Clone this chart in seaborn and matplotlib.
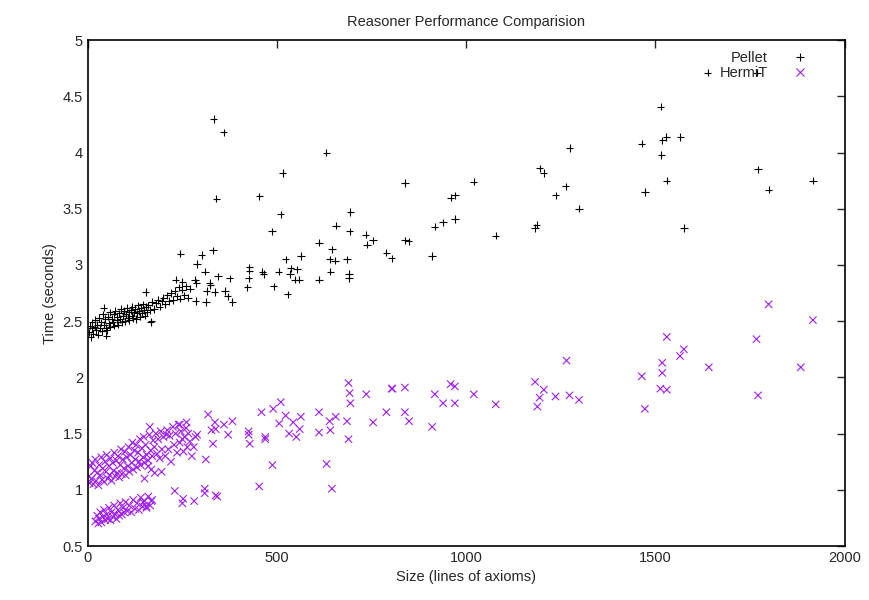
import pandas as pd
import seaborn as sns
import matplotlib.pyplot as plt

sns.set_style("white")
plt.rcParams['font.family'] = ['Liberation Sans', 'DejaVu Sans']

# Pellet - nube densa (tamano pequeno)
pellet_dense_x = [3, 6, 8, 10, 12, 15, 18, 20, 22, 25, 28, 30, 33, 36, 38, 40, 43, 46, 48, 50,
                  53, 56, 58, 60, 63, 66, 68, 70, 73, 76, 78, 80, 83, 86, 88, 90, 93, 96, 98, 100,
                  103, 106, 108, 110, 113, 116, 118, 120, 123, 126, 128, 130, 133, 136, 138, 140,
                  143, 146, 148, 150, 153, 156, 160, 165, 170, 175, 180, 185, 190, 195, 200, 205,
                  210, 215, 220, 225, 230, 235, 240, 245, 250, 255, 260, 265, 270]
pellet_dense_y = [2.40, 2.46, 2.36, 2.44, 2.49, 2.39, 2.45, 2.51, 2.42, 2.47, 2.38, 2.53, 2.44, 2.49,
                  2.41, 2.56, 2.47, 2.52, 2.44, 2.42, 2.54, 2.48, 2.58, 2.45, 2.52, 2.49, 2.56, 2.46,
                  2.59, 2.51, 2.54, 2.47, 2.57, 2.52, 2.61, 2.49, 2.55, 2.59, 2.50, 2.56, 2.62, 2.53,
                  2.58, 2.51, 2.60, 2.55, 2.63, 2.53, 2.58, 2.61, 2.52, 2.57, 2.64, 2.59, 2.54, 2.62,
                  2.57, 2.65, 2.60, 2.55, 2.63, 2.58, 2.64, 2.60, 2.67, 2.61, 2.66, 2.69, 2.63, 2.68,
                  2.71, 2.65, 2.73, 2.68, 2.75, 2.69, 2.77, 2.72, 2.80, 2.70, 2.78, 2.73, 2.81, 2.71,
                  2.79]

# Pellet - puntos sueltos
pellet_x = [42, 49, 153, 166, 168, 232, 245, 250, 283, 285, 287, 289, 301, 310, 312, 314, 322, 324,
            331, 333, 335, 340, 344, 359, 363, 370, 375, 382, 422, 425, 427, 427, 453, 461, 465,
            487, 491, 504, 510, 515, 523, 528, 534, 536, 547, 553, 558, 563, 611, 611, 630, 639,
            641, 645, 653, 656, 685, 690, 690, 692, 694, 734, 738, 754, 789, 803, 838, 838, 848,
            910, 917, 939, 959, 970, 970, 1020, 1078, 1182, 1186, 1194, 1205, 1236, 1263, 1273,
            1298, 1464, 1472, 1514, 1516, 1518, 1529, 1530, 1566, 1575, 1638, 1768, 1771, 1799,
            1916]
pellet_y = [2.62, 2.37, 2.76, 2.49, 2.50, 2.87, 3.10, 2.85, 2.87, 2.68, 2.84, 3.01, 3.09, 2.94,
            2.67, 2.77, 2.84, 2.82, 3.13, 4.30, 2.76, 3.59, 2.90, 4.18, 2.77, 2.72, 2.88, 2.67,
            2.80, 2.88, 2.98, 2.95, 3.61, 2.94, 2.92, 3.30, 2.81, 2.94, 3.45, 3.82, 3.05, 2.74,
            2.92, 2.97, 2.87, 2.96, 2.87, 3.08, 3.20, 2.87, 4.00, 3.05, 2.94, 3.14, 3.04, 3.35,
            3.05, 2.92, 2.88, 3.30, 3.47, 3.27, 3.18, 3.22, 3.11, 3.06, 3.73, 3.22, 3.21, 3.08,
            3.34, 3.38, 3.60, 3.41, 3.62, 3.74, 3.26, 3.33, 3.36, 3.86, 3.82, 3.62, 3.70, 4.04,
            3.50, 4.08, 3.65, 4.41, 3.98, 4.11, 4.14, 3.75, 4.14, 3.33, 4.71, 4.71, 3.85, 3.67,
            3.75]

# HermiT - banda superior densa
hermit_dense_x = [3, 5, 8, 10, 12, 15, 18, 20, 22, 25, 28, 30, 33, 36, 38, 40, 43, 46, 48, 50, 53,
                  56, 58, 60, 63, 66, 68, 70, 73, 76, 78, 80, 83, 86, 88, 90, 93, 96, 98, 100, 103,
                  106, 108, 110, 113, 116, 118, 120, 123, 126, 128, 130, 133, 136, 138, 140, 143,
                  146, 148, 150, 150, 153, 156, 160, 160, 163, 166, 168, 170, 173, 176, 177, 180,
                  183, 186, 190, 193, 195, 196, 200, 205, 210, 213, 216, 220, 225, 228, 232, 236,
                  240, 243, 246, 250, 253, 256, 260, 263, 266, 270, 275, 280, 285]
hermit_dense_y = [1.12, 1.06, 1.21, 1.10, 1.24, 1.05, 1.17, 1.27, 1.08, 1.15, 1.04, 1.22, 1.13, 1.29,
                  1.09, 1.19, 1.07, 1.25, 1.16, 1.31, 1.10, 1.21, 1.13, 1.28, 1.08, 1.24, 1.17, 1.33,
                  1.12, 1.26, 1.15, 1.30, 1.11, 1.22, 1.36, 1.14, 1.27, 1.19, 1.34, 1.13, 1.29, 1.21,
                  1.38, 1.16, 1.31, 1.24, 1.42, 1.18, 1.35, 1.27, 1.40, 1.20, 1.33, 1.25, 1.45, 1.22,
                  1.37, 1.29, 1.47, 1.24, 1.10, 1.40, 1.31, 1.26, 1.21, 1.49, 1.35, 1.18, 1.30, 1.44,
                  1.38, 1.15, 1.50, 1.32, 1.45, 1.28, 1.52, 1.16, 1.36, 1.47, 1.30, 1.53, 1.36, 1.48,
                  1.25, 1.56, 1.40, 1.50, 1.33, 1.58, 1.42, 1.52, 1.45, 1.34, 1.47, 1.55, 1.38, 1.50,
                  1.43, 1.30, 1.38, 1.47]

# HermiT - banda inferior densa
hermit_low_x = [20, 25, 28, 30, 33, 36, 40, 43, 46, 50, 53, 56, 60, 63, 66, 70, 73, 76, 80, 83, 86,
                90, 93, 96, 100, 105, 110, 115, 120, 125, 130, 135, 140, 145, 150, 155, 160, 165, 170]
hermit_low_y = [0.72, 0.77, 0.70, 0.74, 0.80, 0.71, 0.76, 0.82, 0.73, 0.78, 0.74, 0.84, 0.73, 0.80,
                0.76, 0.86, 0.78, 0.74, 0.82, 0.77, 0.88, 0.78, 0.84, 0.80, 0.89, 0.81, 0.86, 0.80,
                0.91, 0.83, 0.88, 0.82, 0.93, 0.85, 0.90, 0.84, 0.94, 0.86, 0.91]

# HermiT - puntos sueltos
hermit_x = [146, 155, 164, 168, 208, 230, 243, 250, 252, 261, 281, 289, 309, 309, 312, 318, 327,
            331, 336, 338, 338, 342, 360, 371, 382, 425, 425, 428, 453, 459, 469, 469, 488, 490,
            506, 510, 523, 532, 543, 551, 560, 563, 611, 611, 631, 639, 641, 645, 655, 685, 689,
            689, 692, 694, 736, 754, 789, 803, 805, 838, 838, 849, 910, 917, 939, 959, 970, 970,
            1020, 1078, 1182, 1188, 1194, 1205, 1236, 1265, 1273, 1298, 1464, 1472, 1513, 1518,
            1518, 1530, 1530, 1565, 1575, 1641, 1767, 1771, 1799, 1884, 1916]
hermit_y = [0.89, 0.85, 1.56, 0.90, 1.49, 0.99, 1.58, 0.88, 0.92, 1.60, 0.90, 1.49, 1.01, 0.97,
            1.27, 1.67, 1.53, 1.41, 1.60, 1.54, 0.95, 0.94, 1.58, 1.49, 1.61, 1.52, 1.49, 1.41,
            1.03, 1.69, 1.47, 1.45, 1.22, 1.72, 1.59, 1.78, 1.66, 1.50, 1.60, 1.47, 1.54, 1.65,
            1.69, 1.51, 1.23, 1.61, 1.53, 1.01, 1.65, 1.61, 1.95, 1.45, 1.86, 1.77, 1.85, 1.60,
            1.69, 1.90, 1.90, 1.91, 1.69, 1.61, 1.56, 1.85, 1.77, 1.94, 1.77, 1.92, 1.85, 1.76,
            1.96, 1.74, 1.82, 1.89, 1.83, 2.15, 1.84, 1.80, 2.01, 1.72, 1.90, 2.13, 2.04, 1.89,
            2.36, 2.19, 2.25, 2.09, 2.34, 1.84, 2.65, 2.09, 2.51]

pellet = pd.DataFrame({"size": pellet_dense_x + pellet_x,
                       "time": pellet_dense_y + pellet_y,
                       "reasoner": "Pellet"})
hermit = pd.DataFrame({"size": hermit_dense_x + hermit_low_x + hermit_x,
                       "time": hermit_dense_y + hermit_low_y + hermit_y,
                       "reasoner": "HermiT"})
data = pd.concat([pellet, hermit], ignore_index=True)

fig, ax = plt.subplots(figsize=(8.69, 6.0), dpi=100)
fig.subplots_adjust(left=0.101, right=0.972, top=0.933, bottom=0.09)

sns.scatterplot(data=data, x="size", y="time", hue="reasoner", style="reasoner",
                markers={"Pellet": "+", "HermiT": "x"},
                palette={"Pellet": "black", "HermiT": "#a020f0"},
                s=28, linewidth=0.8, ax=ax)

ax.set_xlim(0, 2000)
ax.set_ylim(0.5, 5)
ax.set_xticks([0, 500, 1000, 1500, 2000])
ax.set_yticks([0.5, 1, 1.5, 2, 2.5, 3, 3.5, 4, 4.5, 5])
ax.set_yticklabels(["0.5", "1", "1.5", "2", "2.5", "3", "3.5", "4", "4.5", "5"])
ax.tick_params(direction="in", top=True, right=True, length=6, width=1, labelsize=10.5)
for sp in ax.spines.values():
    sp.set_linewidth(1.2)
    sp.set_color("black")

ax.set_title("Reasoner Performance Comparision", fontsize=10.5, pad=10)
ax.set_xlabel("Size (lines of axioms)", fontsize=10.5)
ax.set_ylabel("Time (seconds)", fontsize=10.5)

leg = ax.legend(loc="upper right", bbox_to_anchor=(0.9675, 0.99), frameon=False,
                markerfirst=False, fontsize=10.5, handletextpad=1.2, borderaxespad=0,
                labelspacing=0.05)

fig.savefig("out.png", dpi=100)
